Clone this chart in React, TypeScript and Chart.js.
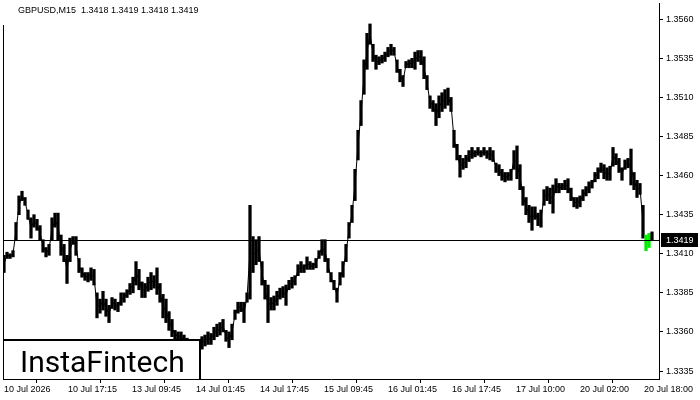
import { useEffect, useRef } from "react";
import { Chart, registerables } from "chart.js";

Chart.register(...registerables);

// ---- data ----
const symbol = "GBPUSD,M15";
const lastOHLC = [1.3418, 1.3419, 1.3418, 1.3419];
const bidPrice = 1.3419;
const barStep = 3; // M15 bars between samples

const highs = [
  1.3409, 1.3411, 1.341, 1.3412, 1.343, 1.3447, 1.345, 1.3446, 1.3438, 1.3433,
  1.3435, 1.3432, 1.3428, 1.3419, 1.3414, 1.3416, 1.3433, 1.3436, 1.3436, 1.3422,
  1.3416, 1.3409, 1.342, 1.3421, 1.3421, 1.3407, 1.3401, 1.3398, 1.3398, 1.3401,
  1.34, 1.3385, 1.3381, 1.3386, 1.3381, 1.3377, 1.3382, 1.3381, 1.3379, 1.3385,
  1.3385, 1.3387, 1.3391, 1.3395, 1.3405, 1.34, 1.3392, 1.3391, 1.3395, 1.3398,
  1.3396, 1.3401, 1.3391, 1.3384, 1.3381, 1.3373, 1.3368, 1.3361, 1.336, 1.336,
  1.3358, 1.3356, 1.3355, 1.3355, 1.3354, 1.3353, 1.3357, 1.3358, 1.336, 1.3359,
  1.3363, 1.3365, 1.3366, 1.3368, 1.3361, 1.336, 1.3365, 1.3374, 1.3379, 1.3379,
  1.3379, 1.3385, 1.3441, 1.3421, 1.3419, 1.3421, 1.3405, 1.3393, 1.339, 1.3382,
  1.3383, 1.3386, 1.3388, 1.3389, 1.339, 1.3393, 1.3395, 1.3396, 1.3403, 1.3405,
  1.3403, 1.3408, 1.3405, 1.3404, 1.3407, 1.3412, 1.3419, 1.3419, 1.3407, 1.3398,
  1.3393, 1.3388, 1.3398, 1.3405, 1.3416, 1.343, 1.3441, 1.3464, 1.3489, 1.3508,
  1.3534, 1.3551, 1.3557, 1.3544, 1.3537, 1.3536, 1.3537, 1.3539, 1.3542, 1.3544,
  1.3542, 1.3534, 1.3528, 1.3524, 1.3533, 1.3534, 1.3535, 1.3539, 1.354, 1.354,
  1.3536, 1.3524, 1.3511, 1.3508, 1.3506, 1.3511, 1.3513, 1.3515, 1.3516, 1.351,
  1.3489, 1.348, 1.3473, 1.3471, 1.3473, 1.3476, 1.3478, 1.3476, 1.3478, 1.3476,
  1.3478, 1.3476, 1.3478, 1.3476, 1.3468, 1.3467, 1.3464, 1.3462, 1.3462, 1.3464,
  1.3476, 1.3479, 1.3467, 1.3453, 1.3446, 1.3441, 1.344, 1.344, 1.3436, 1.3438,
  1.3451, 1.3453, 1.3452, 1.3454, 1.3458, 1.3455, 1.3455, 1.3457, 1.3458, 1.3452,
  1.3446, 1.3446, 1.3447, 1.3451, 1.3453, 1.3456, 1.3457, 1.3462, 1.3465, 1.3468,
  1.3467, 1.3465, 1.3466, 1.3478, 1.3474, 1.3471, 1.3465, 1.347, 1.3471, 1.3477,
  1.3462, 1.3457, 1.3455, 1.3441, 1.3422, 1.3423, 1.3424,
];

const lows = [
  1.3398, 1.3407, 1.3407, 1.3408, 1.3419, 1.3435, 1.3444, 1.3441, 1.3432, 1.342,
  1.3427, 1.3425, 1.3419, 1.3411, 1.3408, 1.3409, 1.3419, 1.3427, 1.3419, 1.3409,
  1.3405, 1.3391, 1.3405, 1.3416, 1.3409, 1.3398, 1.3395, 1.3393, 1.3392, 1.3393,
  1.339, 1.3369, 1.3372, 1.3374, 1.337, 1.3366, 1.3375, 1.3374, 1.3373, 1.3377,
  1.3379, 1.3382, 1.3384, 1.3385, 1.339, 1.3387, 1.3382, 1.3382, 1.3386, 1.3387,
  1.3388, 1.3384, 1.3379, 1.3369, 1.3366, 1.3361, 1.3357, 1.3355, 1.3355, 1.3354,
  1.3352, 1.335, 1.3349, 1.3349, 1.3347, 1.3347, 1.3349, 1.3351, 1.3352, 1.3352,
  1.3355, 1.3357, 1.3358, 1.336, 1.3354, 1.335, 1.3355, 1.3368, 1.3372, 1.3373,
  1.3366, 1.3379, 1.3381, 1.3398, 1.3403, 1.3405, 1.339, 1.3381, 1.3366, 1.3374,
  1.3374, 1.3377, 1.3381, 1.3382, 1.3377, 1.3387, 1.3388, 1.339, 1.3396, 1.3398,
  1.3398, 1.34, 1.34, 1.34, 1.3401, 1.3407, 1.3409, 1.3405, 1.3398, 1.3392,
  1.3387, 1.3379, 1.339, 1.3395, 1.3405, 1.342, 1.343, 1.3444, 1.347, 1.3492,
  1.3512, 1.3528, 1.3544, 1.3533, 1.3528, 1.3531, 1.3532, 1.3533, 1.3536, 1.3537,
  1.3537, 1.3526, 1.352, 1.3517, 1.3529, 1.3529, 1.3529, 1.3528, 1.3533, 1.3531,
  1.3522, 1.3515, 1.3503, 1.3501, 1.3492, 1.3497, 1.3501, 1.3503, 1.3505, 1.3501,
  1.3478, 1.347, 1.3459, 1.3464, 1.3465, 1.3469, 1.3471, 1.3472, 1.3473, 1.3472,
  1.3473, 1.3471, 1.347, 1.3469, 1.3462, 1.346, 1.3457, 1.3456, 1.3457, 1.3457,
  1.3464, 1.3458, 1.3451, 1.3441, 1.3435, 1.343, 1.3425, 1.3432, 1.3428, 1.3427,
  1.3441, 1.3444, 1.3442, 1.3436, 1.3449, 1.3449, 1.3451, 1.3451, 1.3449, 1.3444,
  1.344, 1.3439, 1.344, 1.3444, 1.3447, 1.3449, 1.3452, 1.3456, 1.3458, 1.3462,
  1.3458, 1.3457, 1.3457, 1.3466, 1.3467, 1.3462, 1.3457, 1.3464, 1.3465, 1.3454,
  1.3451, 1.3446, 1.3448, 1.342, 1.3412, 1.3414, 1.3419,
];

const bullishSamples = [214, 215];

const xTickBars = [0, 64, 128, 192, 256, 320, 384, 448, 512, 576, 640];
const xTickLabels = [
  "10 Jul 2026",
  "10 Jul 17:15",
  "13 Jul 09:45",
  "14 Jul 01:45",
  "14 Jul 17:45",
  "15 Jul 09:45",
  "16 Jul 01:45",
  "16 Jul 17:45",
  "17 Jul 10:00",
  "20 Jul 02:00",
  "20 Jul 18:00",
];
const yTicks = [1.3335, 1.336, 1.3385, 1.341, 1.3435, 1.346, 1.3485, 1.351, 1.3535, 1.356];
const yMin = 1.33299;
const yMax = 1.35704;
const xMin = -1;
const xMax = 655;

const FONT = '"Liberation Sans", Arial, sans-serif';

export default function App() {
  const ref = useRef<HTMLCanvasElement | null>(null);

  useEffect(() => {
    const canvas = ref.current;
    if (!canvas) return;
    const firstBull = Math.min(...bullishSamples);
    const xs = highs.map((_, i) => i * barStep);
    const barData = xs.map((x, i) => ({ x, y: [lows[i], highs[i]] }));
    const midData = xs
      .slice(0, firstBull)
      .map((x, i) => ({ x, y: (highs[i] + lows[i]) / 2 }));

    const overlay = {
      id: "overlay",
      afterDraw(chart: any) {
        const { ctx, chartArea: a, scales } = chart;
        const y = scales.y;
        ctx.save();
        ctx.strokeStyle = "#000";
        ctx.lineWidth = 1;
        // left frame line
        ctx.beginPath();
        ctx.moveTo(a.left + 0.5, a.top + 22);
        ctx.lineTo(a.left + 0.5, a.bottom);
        ctx.stroke();
        // bid line
        const py = Math.round(y.getPixelForValue(bidPrice)) + 0.5;
        ctx.beginPath();
        ctx.moveTo(a.left, py);
        ctx.lineTo(a.right, py);
        ctx.stroke();
        // bid label
        ctx.fillStyle = "#000";
        ctx.fillRect(a.right + 2, py - 7.5, 37, 14);
        ctx.fillStyle = "#fff";
        ctx.font = `9px ${FONT}`;
        ctx.textBaseline = "middle";
        ctx.textAlign = "left";
        ctx.fillText(bidPrice.toFixed(4), a.right + 7, py);
        // title
        ctx.fillStyle = "#000";
        ctx.fillText(
          `${symbol}  ${lastOHLC.map((v) => v.toFixed(4)).join(" ")}`,
          18,
          11
        );
        // logo box
        const bx0 = a.left;
        const by0 = 339;
        const bx1 = 201;
        const by1 = a.bottom;
        ctx.fillStyle = "#fff";
        ctx.fillRect(bx0 + 1, by0, bx1 - bx0 - 1, by1 - by0);
        ctx.lineWidth = 2;
        ctx.beginPath();
        ctx.moveTo(bx0, by0 + 1);
        ctx.lineTo(bx1 - 1, by0 + 1);
        ctx.lineTo(bx1 - 1, by1);
        ctx.stroke();
        ctx.fillStyle = "#000";
        ctx.font = "30px Roboto, sans-serif";
        ctx.textBaseline = "alphabetic";
        ctx.fillText("InstaFintech", 20, 372);
        ctx.restore();
      },
    };

    const chart = new Chart(canvas, {
      type: "bar",
      data: {
        datasets: [
          {
            type: "bar",
            data: barData as any,
            backgroundColor: (c: any) =>
              bullishSamples.includes(c.dataIndex) ? "#00ee00" : "#000",
            barThickness: 2.6,
            grouped: false,
            borderWidth: 0,
            order: 1,
          } as any,
          {
            type: "line",
            data: midData as any,
            borderColor: "#000",
            borderWidth: 1,
            pointRadius: 0,
            tension: 0,
            order: 2,
          } as any,
        ],
      },
      options: {
        animation: false,
        responsive: true,
        maintainAspectRatio: false,
        events: [],
        layout: { padding: { left: 3, top: 3, right: 0, bottom: 0 } },
        plugins: {
          legend: { display: false },
          tooltip: { enabled: false },
          title: { display: false },
        },
        scales: {
          x: {
            type: "linear",
            min: xMin,
            max: xMax,
            offset: false,
            afterFit: (s: any) => {
              s.height = 21;
              s.paddingLeft = 0;
              s.paddingRight = 0;
            },
            afterBuildTicks: (s: any) => {
              s.ticks = xTickBars.map((v) => ({ value: v }));
            },
            ticks: {
              autoSkip: false,
              maxRotation: 0,
              align: "start",
              padding: 1,
              color: "#000",
              font: { family: FONT, size: 9 },
              callback: (_v: any, i: number) => xTickLabels[i],
            },
            grid: { drawOnChartArea: false, drawTicks: true, tickLength: 4, color: "#000" },
            border: { display: true, color: "#000", width: 1 },
          } as any,
          y: {
            type: "linear",
            position: "right",
            min: yMin,
            max: yMax,
            afterFit: (s: any) => {
              s.width = 41;
              s.paddingTop = 0;
              s.paddingBottom = 0;
            },
            afterBuildTicks: (s: any) => {
              s.ticks = yTicks.map((v) => ({ value: v }));
            },
            ticks: {
              padding: 3,
              color: "#000",
              font: { family: FONT, size: 9 },
              callback: (v: any) => Number(v).toFixed(4),
            },
            grid: { drawOnChartArea: false, drawTicks: true, tickLength: 4, color: "#000" },
            border: { display: true, color: "#000", width: 1 },
          } as any,
        },
      },
      plugins: [overlay],
    });

    return () => chart.destroy();
  }, []);

  return (
    <div
      style={{
        position: "fixed",
        left: 0,
        top: 0,
        width: 700,
        height: 400,
        background: "#fff",
      }}
    >
      <canvas ref={ref} />
    </div>
  );
}
